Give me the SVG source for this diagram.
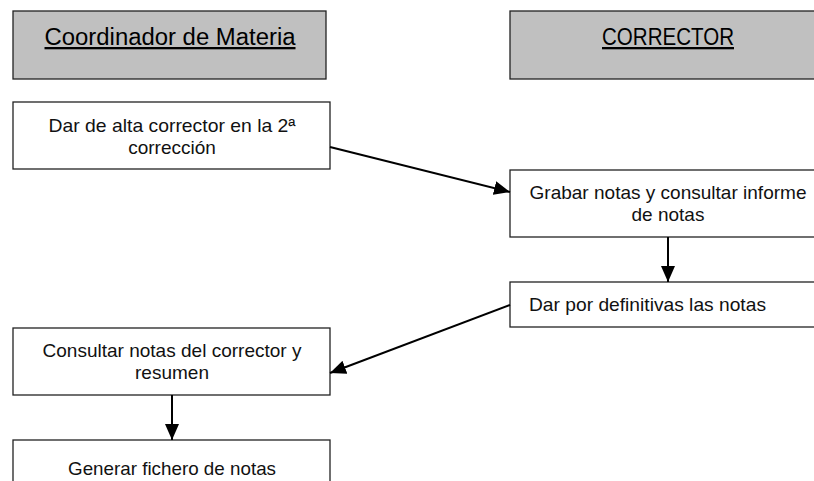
<svg xmlns="http://www.w3.org/2000/svg" width="814" height="481" viewBox="0 0 814 481">
<style>
.hdr{fill:#c0c0c0;stroke:#222;stroke-width:1.3}
.box{fill:#fff;stroke:#222;stroke-width:1.3}
.ht{font-family:"Liberation Sans",Arial,sans-serif;font-size:23px;fill:#000;text-anchor:middle;text-decoration:underline}
.t{font-family:"Liberation Sans",Arial,sans-serif;font-size:19px;fill:#111;text-anchor:middle}
</style>
<defs>
<marker id="ah" viewBox="0 0 16 14" refX="16" refY="7" markerWidth="16" markerHeight="14" markerUnits="userSpaceOnUse" orient="auto">
<path d="M0,0 L16,7 L0,14 z" fill="#000"/>
</marker>
</defs>
<rect width="814" height="481" fill="#fff"/>
<g id="lane-coordinador">
<rect class="hdr" x="13" y="11" width="313" height="68"/>
<text class="ht" x="170" y="45" textLength="251" lengthAdjust="spacingAndGlyphs">Coordinador de Materia</text>
</g>
<g id="lane-corrector">
<rect class="hdr" x="510" y="11" width="310" height="68"/>
<text class="ht" x="668" y="45" textLength="132" lengthAdjust="spacingAndGlyphs">CORRECTOR</text>
</g>
<g id="n1">
<rect class="box" x="13" y="102" width="317" height="67"/>
<text class="t" x="172" y="132" textLength="247" lengthAdjust="spacingAndGlyphs">Dar de alta corrector en la 2ª</text>
<text class="t" x="172" y="154">corrección</text>
</g>
<g id="n2">
<rect class="box" x="510" y="170" width="310" height="67"/>
<text class="t" x="668" y="199" textLength="277" lengthAdjust="spacingAndGlyphs">Grabar notas y consultar informe</text>
<text class="t" x="668" y="221">de notas</text>
</g>
<g id="n3">
<rect class="box" x="510" y="282" width="310" height="45"/>
<text class="t" x="529" y="311" style="text-anchor:start" textLength="237" lengthAdjust="spacingAndGlyphs">Dar por definitivas las notas</text>
</g>
<g id="n4">
<rect class="box" x="13" y="328" width="317" height="67"/>
<text class="t" x="172" y="357" textLength="259" lengthAdjust="spacingAndGlyphs">Consultar notas del corrector y</text>
<text class="t" x="172" y="379">resumen</text>
</g>
<g id="n5">
<rect class="box" x="13" y="440" width="317" height="60"/>
<text class="t" x="172" y="475" textLength="208" lengthAdjust="spacingAndGlyphs">Generar fichero de notas</text>
</g>
<g id="connectors">
<line x1="330" y1="147" x2="510" y2="192" stroke="#000" stroke-width="2" marker-end="url(#ah)"/>
<line x1="668" y1="237" x2="668" y2="282" stroke="#000" stroke-width="2" marker-end="url(#ah)"/>
<line x1="510" y1="305" x2="330" y2="373" stroke="#000" stroke-width="2" marker-end="url(#ah)"/>
<line x1="172" y1="395" x2="172" y2="440" stroke="#000" stroke-width="2" marker-end="url(#ah)"/>
</g>
</svg>
